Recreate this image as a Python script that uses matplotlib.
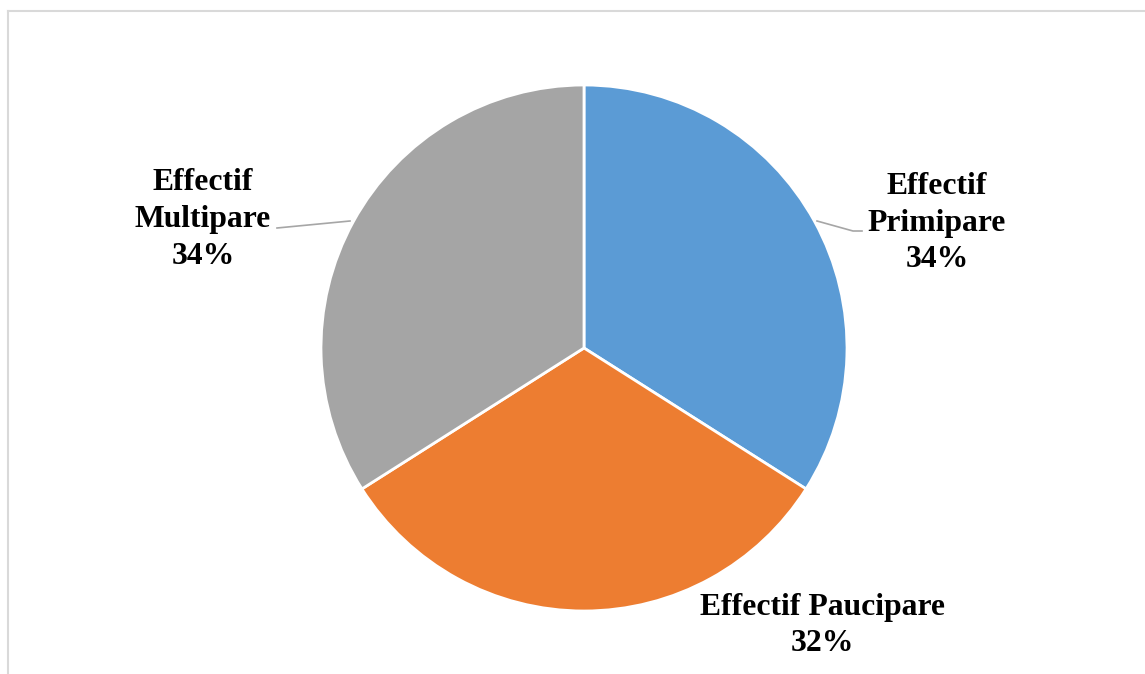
import numpy as np
import matplotlib.pyplot as plt

# Répartition des effectifs par parité
categories = ["Effectif Primipare", "Effectif Paucipare", "Effectif Multipare"]
percents = [34, 32, 34]
colors = ["#5B9BD5", "#ED7D31", "#A5A5A5"]

W, H = 1145, 674
fig = plt.figure(figsize=(W / 100, H / 100), dpi=100)

# cadre du graphique (haut et gauche)
frame = fig.add_axes([0, 0, 1, 1])
frame.set_xlim(0, W)
frame.set_ylim(H, 0)
frame.axis("off")
frame.plot([8, W], [11, 11], color="#D9D9D9", lw=1.5)
frame.plot([8, 8], [11, H], color="#D9D9D9", lw=1.5)

# axe du camembert: centre (584, 348), rayon 263 px
cx, cy, r = 584, 348, 263
ax = fig.add_axes([(cx - r) / W, (H - cy - r) / H, 2 * r / W, 2 * r / H])
wedges, _ = ax.pie(percents, colors=colors, startangle=90, counterclock=False,
                   radius=1, wedgeprops=dict(edgecolor="white", linewidth=2))
ax.set_xlim(-1, 1)
ax.set_ylim(-1, 1)
ax.set_aspect("equal")
ax.axis("off")

font = dict(family="Liberation Serif", fontweight="bold", fontsize=22.8,
            ha="center", va="center", multialignment="center", color="black",
            linespacing=1.36)

labels = [
    "Effectif\nPrimipare\n%d%%" % percents[0],
    "Effectif Paucipare\n%d%%" % percents[1],
    "Effectif\nMultipare\n%d%%" % percents[2],
]
label_pos = [(1.342, 0.475), (0.905, -1.055), (-1.449, 0.49)]
for lab, (lx, ly) in zip(labels, label_pos):
    ax.text(lx, ly, lab, clip_on=False, **font)

# lignes de rappel
lc = "#A6A6A6"
ax.plot([(817 - cx) / r, (853 - cx) / r, (862 - cx) / r],
        [(cy - 221) / r, (cy - 231) / r, (cy - 231) / r],
        color=lc, lw=1.2, clip_on=False)
ax.plot([(350 - cx) / r, (277 - cx) / r],
        [(cy - 221) / r, (cy - 228) / r],
        color=lc, lw=1.2, clip_on=False)

fig.savefig("out.png", dpi=100)
